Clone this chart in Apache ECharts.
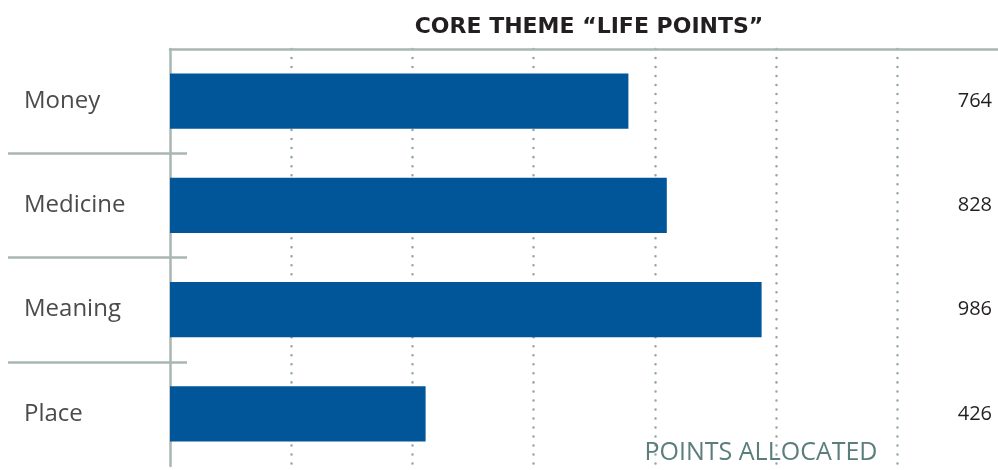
<!DOCTYPE html>
<html><head><meta charset="utf-8">
<script src="https://cdn.jsdelivr.net/npm/echarts@6/dist/echarts.min.js"></script>
<style>html,body{margin:0;padding:0;background:#fff}#c{width:998px;height:470px}</style>
</head><body><div id="c"></div>
<script>
const categories = ['Money', 'Medicine', 'Meaning', 'Place'];
const points = [764, 828, 986, 426];
const chartTitle = 'CORE THEME “LIFE POINTS”';
const axisTitle = 'POINTS ALLOCATED';

const GRAY = '#a9b6b1';
const chart = echarts.init(document.getElementById('c'), null, {renderer: 'canvas'});
chart.setOption({
  animation: false,
  backgroundColor: '#ffffff',
  title: [
    {text: chartTitle, left: 584, top: 11, textAlign: 'center',
     textStyle: {fontFamily: 'DejaVu Sans', fontWeight: 'bold', fontSize: 22, color: '#231f20'}},
    {text: axisTitle, left: 756, top: 435, textAlign: 'center',
     textStyle: {fontFamily: 'Open Sans', fontWeight: 'normal', fontSize: 25, color: '#5b7d7c'}}
  ],
  grid: [
    {left: 170, right: 0, top: 49, height: 417},
    {left: 8, width: 179, top: 49, height: 417}
  ],
  xAxis: [
    {gridIndex: 0, type: 'value', min: 0, max: 1380, show: false},
    {gridIndex: 0, type: 'value', position: 'top', min: 0, max: 1366, interval: 200,
     axisLine: {show: true, lineStyle: {color: GRAY, width: 2.5}},
     axisTick: {show: false}, axisLabel: {show: false},
     splitLine: {show: true, showMinLine: false, showMaxLine: false,
       lineStyle: {color: '#93a6a1', width: 2.5, type: [0.01, 9], cap: 'round'}}},
    {gridIndex: 1, type: 'value', show: false}
  ],
  yAxis: [
    {gridIndex: 0, type: 'category', inverse: true, data: categories,
     axisLine: {show: true, lineStyle: {color: GRAY, width: 2.5}},
     axisTick: {show: false},
     axisLabel: {align: 'left', margin: 146, fontFamily: 'Open Sans', fontSize: 24, color: '#4b4b4b', padding: [3, 0, 0, 0]}},
    {gridIndex: 0, type: 'category', inverse: true, position: 'right', data: categories,
     axisLine: {show: false}, axisTick: {show: false},
     axisLabel: {inside: true, margin: 6, fontFamily: 'Open Sans', fontSize: 20, color: '#231f20',
       formatter: (v, i) => String(points[i])}},
    {gridIndex: 1, type: 'category', inverse: true, data: categories,
     axisLine: {show: false}, axisTick: {show: false}, axisLabel: {show: false},
     splitLine: {show: true, showMinLine: false, showMaxLine: false, lineStyle: {color: GRAY, width: 2.5}}}
  ],
  series: [{
    type: 'bar', xAxisIndex: 0, yAxisIndex: 0, data: points,
    barCategoryGap: '47%',
    itemStyle: {color: '#01569a'}
  }]
});
</script></body></html>
